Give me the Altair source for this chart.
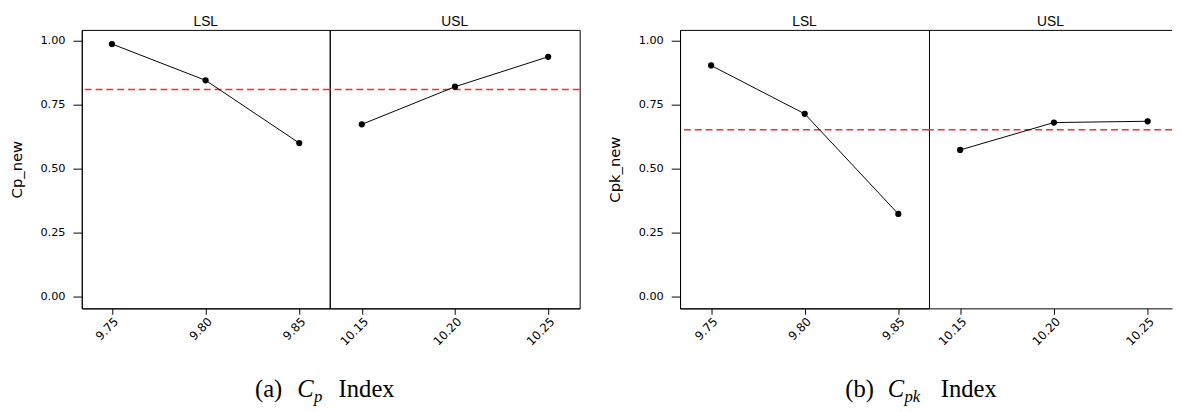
import altair as alt
import pandas as pd

# ---- data ----
x_lsl = [9.75, 9.80, 9.85]
x_usl = [10.15, 10.20, 10.25]
cp_lsl = [0.987, 0.845, 0.600]
cp_usl = [0.673, 0.820, 0.937]
cpk_lsl = [0.903, 0.714, 0.323]
cpk_usl = [0.573, 0.680, 0.685]
cp_ref = 0.809
cpk_ref = 0.652
headers = ["LSL", "USL"]
y_titles = ["Cp_new", "Cpk_new"]
y_ticks = [0.0, 0.25, 0.50, 0.75, 1.00]
cap_a = ["(a)", "C", "p", "Index"]
cap_b = ["(b)", "C", "pk", "Index"]

Y_DOM = [-0.046, 1.042]
H = 283


def panel(xs, ys, ref, header, width, xdom, ytitle=None, last=False, caption=None, cap_pos=None):
    df = pd.DataFrame({"x": xs, "y": ys})
    ysc = alt.Scale(domain=Y_DOM, nice=False, zero=False)
    if ytitle:
        yaxis = alt.Axis(values=y_ticks, format=".2f", title=ytitle, tickSize=9,
                         labelPadding=8, titlePadding=16, labelFontSize=11.5,
                         titleFontSize=15, titleFont="DejaVu Sans", titleFontWeight="normal",
                         grid=False)
    else:
        yaxis = None
    xaxis = alt.Axis(values=xs, format=".2f", labelAngle=315, labelAlign="right",
                     labelBaseline="middle", labelOffset=4, tickSize=6, labelPadding=5,
                     labelFontSize=12, grid=False, title=None)
    xsc = alt.Scale(domain=xdom, nice=False, zero=False)
    enc_x = alt.X("x:Q", scale=xsc, axis=xaxis)
    line = alt.Chart(df).mark_line(color="black", strokeWidth=1).encode(
        enc_x, alt.Y("y:Q", scale=ysc, axis=yaxis))
    pts = alt.Chart(df).mark_point(filled=True, size=40, color="black", opacity=1).encode(
        enc_x, alt.Y("y:Q", scale=ysc, axis=yaxis))
    rule = alt.Chart(pd.DataFrame({"ref": [ref]})).mark_rule(
        color="#ff2a2a", strokeDash=[7, 4], strokeWidth=1.5).encode(
        y=alt.Y("ref:Q", scale=ysc, axis=yaxis))
    layers = [rule, line, pts]
    if last:
        top = alt.Chart(pd.DataFrame({"a": [0]})).mark_rule(color="black", strokeWidth=1).encode(
            x=alt.value(0), x2=alt.value(width), y=alt.value(0.5))
        layers.append(top)
    if caption:
        sizes = [25, 25, 17, 25]
        styles = ["normal", "italic", "italic", "normal"]
        dys = [0, 0, 5, 0]
        for t, px, sz, st, dy in zip(caption, cap_pos, sizes, styles, dys):
            layers.append(
                alt.Chart(pd.DataFrame({"t": [t]})).mark_text(
                    align="left", baseline="alphabetic", font="Liberation Serif",
                    fontSize=sz, fontStyle=st, color="black", dy=dy).encode(
                    x=alt.value(px), y=alt.value(373), text="t:N"))
    props = dict(width=width, height=H,
                 title=alt.TitleParams(header, fontSize=14, font="Liberation Sans",
                                       fontWeight="normal", offset=1, anchor="middle",
                                       color="black"))
    if last:
        props["view"] = alt.ViewBackground(stroke="transparent")
    return alt.layer(*layers).properties(**props)


a_l = panel(x_lsl, cp_lsl, cp_ref, headers[0], 252, [9.7339, 9.8663], ytitle=y_titles[0],
            caption=cap_a, cap_pos=[176, 219, 236, 261])
a_u = panel(x_usl, cp_usl, cp_ref, headers[1], 254, [10.1328, 10.2669])
b_l = panel(x_lsl, cpk_lsl, cpk_ref, headers[0], 253, [9.7334, 9.8664], ytitle=y_titles[1],
            caption=cap_b, cap_pos=[168, 211, 228, 265])
b_u = panel(x_usl, cpk_usl, cpk_ref, headers[1], 247, [10.1334, 10.2630], last=True)

left = alt.hconcat(a_l, a_u, spacing=0, bounds="flush")
right = alt.hconcat(b_l, b_u, spacing=0, bounds="flush")

chart = alt.hconcat(left, right, spacing=25).properties(
    padding={"left": 0, "top": 3, "right": 0, "bottom": 0}
).configure(background="white").configure_view(
    stroke="black", strokeWidth=1
).configure_axis(
    domainColor="black", tickColor="black", labelColor="black", titleColor="black",
    labelFont="DejaVu Sans", domainWidth=1, tickWidth=1
)

chart.save("out.html", embed_options={"renderer": "svg", "actions": False})
